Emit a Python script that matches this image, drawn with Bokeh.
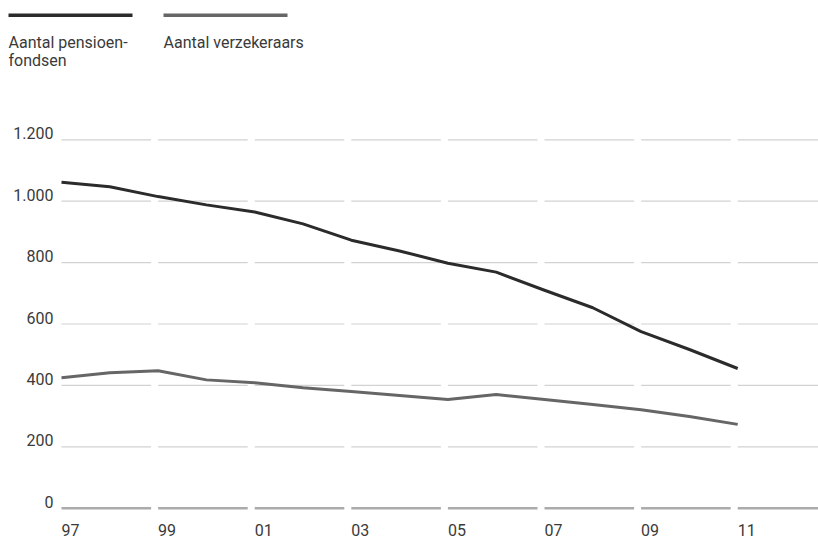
from bokeh.plotting import figure
from bokeh.layouts import column
from bokeh.models import Range1d, ColumnDataSource
from bokeh.core.properties import value
from bokeh.embed import file_html
from bokeh.resources import INLINE

# ---- data ----
years = list(range(1997, 2012))
pensioenfondsen = [1062, 1047, 1015, 988, 965, 926, 873, 838, 798, 769, 710, 653, 575, 517, 455]
verzekeraars = [425, 441, 448, 418, 409, 392, 380, 367, 354, 370, 354, 338, 321, 299, 273]

x_ticks = [1997, 1999, 2001, 2003, 2005, 2007, 2009, 2011]
x_tick_labels = ["97", "99", "01", "03", "05", "07", "09", "11"]
y_ticks = [0, 200, 400, 600, 800, 1000, 1200]
y_tick_labels = ["0", "200", "400", "600", "800", "1.000", "1.200"]

series_names = ["Aantal pensioen-\nfondsen", "Aantal verzekeraars"]
series_colors = ["#2b2b2b", "#666666"]

FONT = value("Roboto")
TXT = "#3a3a3a"

W = 818
LEG_H = 88
MAIN_H = 451

# ---- legend strip ----
leg = figure(width=W, height=LEG_H, output_backend="svg", toolbar_location=None,
             x_range=Range1d(0, W), y_range=Range1d(LEG_H, 0),
             min_border=0, outline_line_color=None)
leg.axis.visible = False
leg.grid.visible = False
leg_x = [8, 163]
for i, (name, col) in enumerate(zip(series_names, series_colors)):
    leg.segment(x0=[leg_x[i]], x1=[leg_x[i] + 124], y0=[14.8], y1=[14.8],
                line_color=col, line_width=3.5)
    for j, part in enumerate(name.split("\n")):
        leg.text(x=[leg_x[i]], y=[41.5 + 18 * j], text=[part], text_font=FONT,
                 text_font_size="16px", text_color=TXT,
                 text_baseline="middle", text_align="left")

# ---- main chart ----
px_year = 48.3
px_unit = 0.307
x0 = 1997 - 61 / px_year
x1 = 1997 + 757 / px_year
ytop = 419.7 / px_unit
ybot = -31.3 / px_unit

p = figure(width=W, height=MAIN_H, output_backend="svg", toolbar_location=None,
           x_range=Range1d(x0, x1), y_range=Range1d(ybot, ytop),
           min_border=0, outline_line_color=None)
p.axis.visible = False
p.grid.visible = False

gap = 7 / px_year
for yv in y_ticks:
    xs0 = x_ticks
    xs1 = [t + 2 - gap for t in x_ticks]
    if yv == 0:
        p.segment(x0=xs0, x1=xs1, y0=[yv] * len(xs0), y1=[yv] * len(xs0),
                  line_color="#ababab", line_width=2.5)
    else:
        p.segment(x0=xs0, x1=xs1, y0=[yv] * len(xs0), y1=[yv] * len(xs0),
                  line_color="#d2d2d2", line_width=1.2)

src = ColumnDataSource(dict(year=years, pf=pensioenfondsen, vz=verzekeraars))
p.line("year", "pf", source=src, line_color=series_colors[0], line_width=3,
       line_join="round")
p.line("year", "vz", source=src, line_color=series_colors[1], line_width=3,
       line_join="round")

# y tick labels
p.text(x=[1997] * len(y_ticks), y=y_ticks, text=y_tick_labels, x_offset=-8,
       y_offset=-6.5, text_font=FONT, text_font_size="16px", text_color=TXT,
       text_align="right", text_baseline="middle")
# x tick labels
p.text(x=x_ticks, y=[0] * len(x_ticks), text=x_tick_labels, y_offset=21.5,
       text_font=FONT, text_font_size="16px", text_color=TXT,
       text_align="left", text_baseline="middle")

layout = column(leg, p, spacing=0)
open("out.html", "w").write(file_html(layout, INLINE))
